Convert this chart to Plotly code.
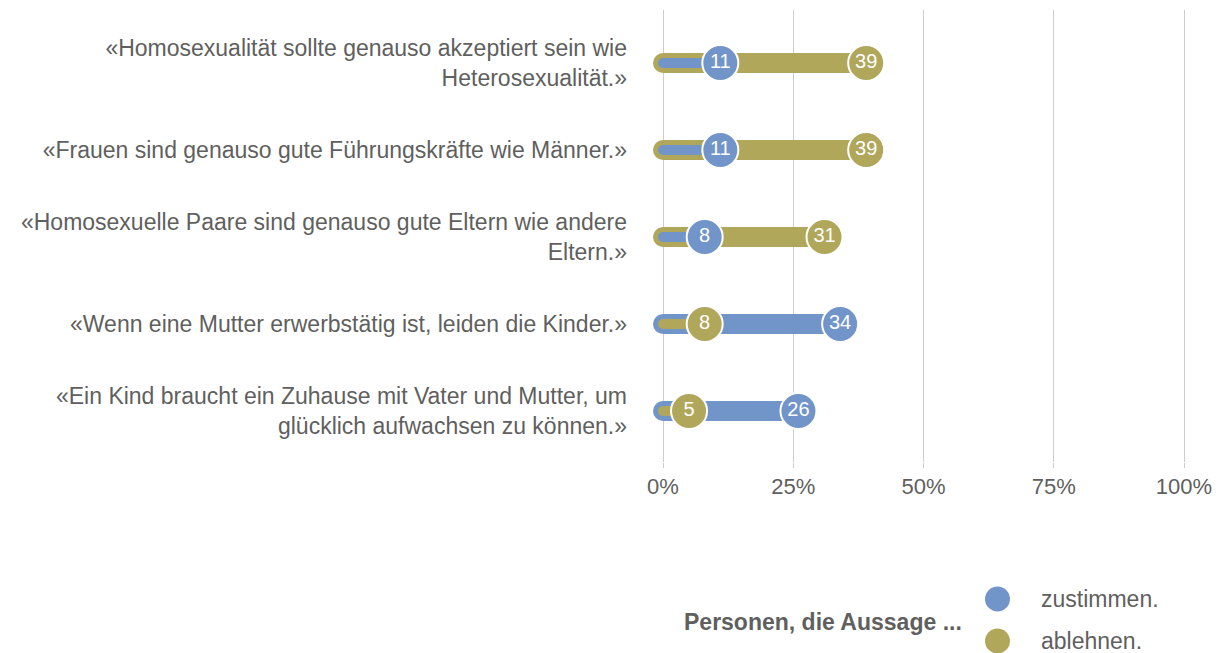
import plotly.graph_objects as go

categories = [
    "«Homosexualität sollte genauso akzeptiert sein wie<br>Heterosexualität.»",
    "«Frauen sind genauso gute Führungskräfte wie Männer.»",
    "«Homosexuelle Paare sind genauso gute Eltern wie andere<br>Eltern.»",
    "«Wenn eine Mutter erwerbstätig ist, leiden die Kinder.»",
    "«Ein Kind braucht ein Zuhause mit Vater und Mutter, um<br>glücklich aufwachsen zu können.»",
]
zustimmen = [11, 11, 8, 34, 26]
ablehnen = [39, 39, 31, 8, 5]
series_names = ["zustimmen.", "ablehnen."]
x_ticks = [0, 25, 50, 75, 100]
x_ticklabels = ["0%", "25%", "50%", "75%", "100%"]

BLUE = "#7295C9"
OLIVE = "#B0A75B"
TEXT = "#5f5f5f"
FONT = "Liberation Sans, Arial, Helvetica, sans-serif"

fig = go.Figure()

# Build wide (longer value) and narrow (shorter value) bar segments per colour
wide = {BLUE: ([], []), OLIVE: ([], [])}
narrow = {BLUE: ([], []), OLIVE: ([], [])}
cap_w = ([], [], [])
cap_n = ([], [], [])
for cat, z, a in zip(categories, zustimmen, ablehnen):
    if z >= a:
        long_c, long_v, short_c, short_v = BLUE, z, OLIVE, a
    else:
        long_c, long_v, short_c, short_v = OLIVE, a, BLUE, z
    wide[long_c][0].extend([0, long_v, None])
    wide[long_c][1].extend([cat, cat, None])
    narrow[short_c][0].extend([0, short_v, None])
    narrow[short_c][1].extend([cat, cat, None])
    cap_w[0].append(0); cap_w[1].append(cat); cap_w[2].append(long_c)
    cap_n[0].append(0); cap_n[1].append(cat); cap_n[2].append(short_c)

for c, (xs, ys) in wide.items():
    if xs:
        fig.add_trace(go.Scatter(x=xs, y=ys, mode="lines", line=dict(color=c, width=20),
                                 hoverinfo="skip", showlegend=False))
fig.add_trace(go.Scatter(x=cap_w[0], y=cap_w[1], mode="markers",
                         marker=dict(color=cap_w[2], size=20, line=dict(width=0)),
                         hoverinfo="skip", showlegend=False))
for c, (xs, ys) in narrow.items():
    if xs:
        fig.add_trace(go.Scatter(x=xs, y=ys, mode="lines", line=dict(color=c, width=10),
                                 hoverinfo="skip", showlegend=False))
fig.add_trace(go.Scatter(x=cap_n[0], y=cap_n[1], mode="markers",
                         marker=dict(color=cap_n[2], size=10, line=dict(width=0)),
                         hoverinfo="skip", showlegend=False))

for name, vals, c in [(series_names[0], zustimmen, BLUE), (series_names[1], ablehnen, OLIVE)]:
    fig.add_trace(go.Scatter(
        x=vals, y=categories, mode="markers+text", name=name,
        text=[str(v) for v in vals], textposition="middle center",
        textfont=dict(color="white", size=20, family=FONT),
        marker=dict(color=c, size=36, line=dict(color="white", width=2)),
        showlegend=False,
    ))

# Manual legend (positions relative to the plot area, in page pixels)
def px_to_paper(px, py):
    return (px - 640) / 555, (462 - py) / 452

for (py, c, label) in [(599, BLUE, series_names[0]), (641, OLIVE, series_names[1])]:
    x0, y0 = px_to_paper(997.5, py)
    fig.add_shape(type="circle", xref="paper", yref="paper", xsizemode="pixel", ysizemode="pixel",
                  xanchor=x0, yanchor=y0, x0=-12.5, x1=12.5, y0=-12.5, y1=12.5,
                  fillcolor=c, line=dict(width=0))
    tx, ty = px_to_paper(1039, py)
    fig.add_annotation(xref="paper", yref="paper", x=tx, y=ty, text=label, showarrow=False,
                       xanchor="left", yanchor="middle", font=dict(size=23, color=TEXT, family=FONT))
lx, ly = px_to_paper(964, 622)
fig.add_annotation(xref="paper", yref="paper", x=lx, y=ly, text="<b>Personen, die Aussage ...</b>",
                   showarrow=False, xanchor="right", yanchor="middle",
                   font=dict(size=23, color=TEXT, family=FONT))

fig.update_layout(
    width=1223, height=653,
    margin=dict(l=632, r=36, t=2, b=199),
    paper_bgcolor="white", plot_bgcolor="white",
    font=dict(family=FONT, size=22, color=TEXT),
    showlegend=False,
    xaxis=dict(range=[-4.415, 102.11], tickvals=x_ticks, ticktext=x_ticklabels,
               showgrid=True, gridcolor="#cccccc", gridwidth=1, zeroline=False,
               ticks="outside", ticklen=5, tickcolor="#cccccc",
               tickfont=dict(size=22, color=TEXT), showline=False, fixedrange=True),
    yaxis=dict(type="category", categoryorder="array", categoryarray=categories,
               range=[4.586, -0.609], showgrid=False, zeroline=False, showline=False,
               ticks="", ticklabelstandoff=12,
               tickfont=dict(size=23, color=TEXT), fixedrange=True),
)

fig.write_html("out.html")
